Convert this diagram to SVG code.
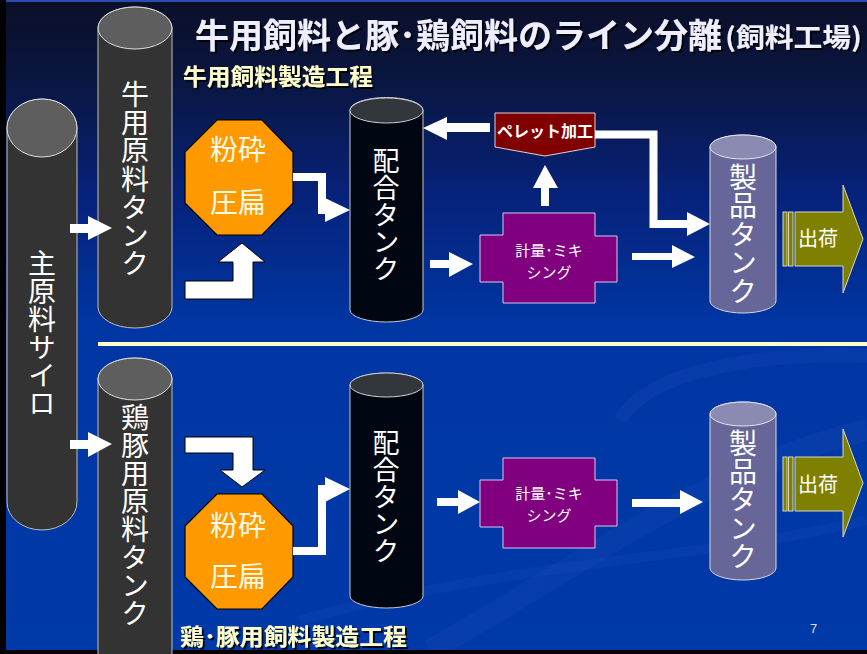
<svg xmlns="http://www.w3.org/2000/svg" width="867" height="654" viewBox="0 0 867 654">
<defs>
<linearGradient id="bg" x1="0" y1="0" x2="0" y2="1">
<stop offset="0" stop-color="#0b0f28"/>
<stop offset="0.12" stop-color="#0a1640"/>
<stop offset="0.3" stop-color="#06227a"/>
<stop offset="0.5" stop-color="#0036a4"/>
<stop offset="1" stop-color="#003aa8"/>
</linearGradient>
<filter id="sh" x="-5%" y="-20%" width="110%" height="150%">
<feDropShadow dx="2" dy="2" stdDeviation="0.6" flood-color="#000" flood-opacity="0.85"/>
</filter>
<style>
.vt{font-family:"Noto Sans CJK JP","Noto Sans",sans-serif;font-size:28px;fill:#ffffff;writing-mode:vertical-rl;text-orientation:upright}
.oct{fill:#ff9900;stroke:#000;stroke-width:1.2}
.octt{font-family:"Noto Sans CJK JP",sans-serif;font-size:28px;fill:#fffbe6;text-anchor:middle}
.dk{fill:#333333;stroke:#bdbdbd;stroke-width:1}
.dkt{fill:#5e5e5e;stroke:#e0e0e0;stroke-width:1}
.mx{fill:#000612;stroke:#c8c8c8;stroke-width:1}
.mxt{fill:#33363d;stroke:#d0d0d0;stroke-width:1}
.pr{fill:#666699;stroke:#d8d8e8;stroke-width:1}
.prt{fill:#8a8ab2;stroke:#e6e6f2;stroke-width:1}
.mix{fill:#800080;stroke:#d8c8f0;stroke-width:1}
.mixt{font-family:"Noto Sans CJK JP",sans-serif;font-size:15px;fill:#ffffff;text-anchor:middle}
.ol{fill:#808000;stroke:#d8d8c0;stroke-width:1}
.olt{font-family:"Noto Sans CJK JP",sans-serif;font-size:20px;fill:#ffffff;text-anchor:middle}
.wa{fill:#ffffff}
.wl{fill:none;stroke:#ffffff;stroke-width:8;stroke-linejoin:miter}
.wo{fill:#ffffff;stroke:#000;stroke-width:1}
.ttl{font-family:"Noto Sans CJK JP",sans-serif;font-weight:bold;fill:#eeeeff}
.sub{font-family:"Noto Sans CJK JP",sans-serif;font-weight:bold;font-size:23px;fill:#ffffcc}
</style>
</defs>
<rect x="0" y="0" width="867" height="654" fill="url(#bg)"/>
<g fill="none" stroke="#1a4cb8" stroke-opacity="0.25">
<path d="M 430 650 C 560 580 700 470 867 430" stroke-width="22"/>
<path d="M 620 420 C 650 370 760 352 867 356" stroke-width="14"/>
<path d="M 300 620 C 520 560 700 560 867 520" stroke-width="10"/>
</g>
<rect x="0" y="0" width="867" height="2" fill="#2a4cb0"/>
<rect x="0" y="0" width="6" height="654" fill="#000"/>
<rect x="0" y="650" width="867" height="4" fill="#000"/>

<g id="title">
<text class="ttl" x="195" y="48" font-size="34" textLength="527" lengthAdjust="spacingAndGlyphs" filter="url(#sh)">牛用飼料と豚･鶏飼料のライン分離</text>
<text class="ttl" x="725" y="47" font-size="26" textLength="137" lengthAdjust="spacingAndGlyphs" filter="url(#sh)">(飼料工場)</text>
</g>
<text id="sub-cow" class="sub" x="183" y="85" textLength="190" lengthAdjust="spacingAndGlyphs" filter="url(#sh)">牛用飼料製造工程</text>
<text id="sub-pig" class="sub" x="180" y="645" textLength="227" lengthAdjust="spacingAndGlyphs" filter="url(#sh)">鶏･豚用飼料製造工程</text>
<rect id="separator" x="98" y="342" width="769" height="4" fill="#ffffcc"/>
<text id="page" x="810" y="633" font-family="Liberation Sans, sans-serif" font-size="13" fill="#dddddd">7</text>

<g id="main-silo">
<path class="dk" d="M 7 128 L 7 502 A 35 28 0 0 0 77 502 L 77 128 A 35 29 0 0 0 7 128 Z"/>
<ellipse class="dkt" cx="42" cy="128" rx="35" ry="29"/>
<text class="vt" x="42" y="249">主原料サイロ</text>
</g>

<g id="cow-tank">
<path class="dk" d="M 98 28 L 98 307 A 37 21 0 0 0 172 307 L 172 28 A 37 21 0 0 0 98 28 Z"/>
<ellipse class="dkt" cx="135" cy="28" rx="37" ry="21"/>
<text class="vt" x="135" y="80" letter-spacing="0.3">牛用原料タンク</text>
</g>

<g id="pig-tank">
<path class="dk" d="M 98 379 L 98 670 A 37 21 0 0 0 172 670 L 172 379 A 37 21 0 0 0 98 379 Z"/>
<ellipse class="dkt" cx="135" cy="379" rx="37" ry="21"/>
<text class="vt" x="135" y="403">鶏豚用原料タンク</text>
</g>

<g id="crush-top">
<polygon class="oct" points="217,120 262,120 293,152 293,203 262,235 217,235 185,203 185,152"/>
<text class="octt" x="238" y="160">粉砕</text>
<text class="octt" x="238" y="213">圧扁</text>
</g>
<g id="crush-bottom">
<polygon class="oct" points="217,494 262,494 293,526 293,577 262,609 217,609 185,577 185,526"/>
<text class="octt" x="238" y="536">粉砕</text>
<text class="octt" x="238" y="587">圧扁</text>
</g>

<g id="mix-tank-top">
<path class="mx" d="M 350 110 L 350 310 A 36.5 12 0 0 0 423 310 L 423 110 A 36.5 12.5 0 0 0 350 110 Z"/>
<ellipse class="mxt" cx="386.5" cy="110.5" rx="36.5" ry="12.5"/>
<text class="vt" x="386" y="147.5" style="font-size:27px">配合タンク</text>
</g>
<g id="mix-tank-bottom">
<path class="mx" d="M 350 385 L 350 596 A 36.5 12 0 0 0 423 596 L 423 385 A 36.5 12 0 0 0 350 385 Z"/>
<ellipse class="mxt" cx="386.5" cy="385" rx="36.5" ry="12"/>
<text class="vt" x="386" y="429.5" style="font-size:27px">配合タンク</text>
</g>

<g id="weigh-mix-top">
<polygon class="mix" points="503,213 595,213 595,236 617,236 617,282 595,282 595,303 503,303 503,282 480,282 480,235 503,235"/>
<text class="mixt" x="549" y="256"><tspan x="549">計量･ミキ</tspan><tspan x="549" dy="22">シング</tspan></text>
</g>
<g id="weigh-mix-bottom">
<polygon class="mix" points="503,458 595,458 595,480 617,480 617,526 595,526 595,548 503,548 503,527 480,527 480,480 503,480"/>
<text class="mixt" x="549" y="499"><tspan x="549">計量･ミキ</tspan><tspan x="549" dy="22">シング</tspan></text>
</g>

<g id="pellet">
<polygon points="495,113 595,113 595,147 545,156 495,147" fill="#800000" stroke="#e0d0d0" stroke-width="1"/>
<text x="545" y="137" font-family="Noto Sans CJK JP, sans-serif" font-weight="bold" font-size="16" fill="#ffffff" text-anchor="middle" textLength="96" lengthAdjust="spacingAndGlyphs">ペレット加工</text>
</g>

<g id="product-tank-top">
<path class="pr" d="M 710 147 L 710 301 A 33 12 0 0 0 776 301 L 776 147 A 33 12 0 0 0 710 147 Z"/>
<ellipse class="prt" cx="743" cy="147" rx="33" ry="12"/>
<text class="vt" x="743" y="163" letter-spacing="0.5">製品タンク</text>
</g>
<g id="product-tank-bottom">
<path class="pr" d="M 710 414 L 710 568 A 33 12 0 0 0 776 568 L 776 414 A 33 12 0 0 0 710 414 Z"/>
<ellipse class="prt" cx="743" cy="414" rx="33" ry="12"/>
<text class="vt" x="743" y="429" letter-spacing="0.3">製品タンク</text>
</g>

<g id="ship-top">
<rect class="ol" x="783" y="212" width="4" height="54"/>
<rect class="ol" x="788.5" y="212" width="4.5" height="54"/>
<polygon class="ol" points="795,212 843,212 843,185 863,239 843,293 843,266 795,266"/>
<text class="olt" x="818" y="246">出荷</text>
</g>
<g id="ship-bottom">
<rect class="ol" x="783" y="457" width="4" height="54"/>
<rect class="ol" x="788.5" y="457" width="4.5" height="54"/>
<polygon class="ol" points="795,457 843,457 843,429 863,483 843,537 843,511 795,511"/>
<text class="olt" x="818" y="492">出荷</text>
</g>

<g id="connectors">
<polygon class="wa" points="70,224 88,224 88,216 112,228 88,240 88,233 70,233"/>
<polygon class="wa" points="70,440 88,440 88,432 112,444 88,457 88,449 70,449"/>
<polygon class="wo" points="185,281 233,281 233,262 218,262 242,243 265,262 253,262 253,299 185,299"/>
<polygon class="wo" points="185,437 253,437 253,470 265,470 242,487 220,470 233,470 233,453 185,453"/>
<polyline class="wl" points="293,177 322,177 322,210 328,210"/>
<polygon class="wa" points="325,198 350,210 325,222"/>
<polyline class="wl" points="293,551 322,551 322,489 328,489"/>
<polygon class="wa" points="325,477 350,489 325,502"/>
<polygon class="wa" points="430,260 449,260 449,252 473,264 449,277 449,268 430,268"/>
<polygon class="wa" points="437,498 458,498 458,490 480,502 458,514 458,506 437,506"/>
<polygon class="wa" points="541,206 541,188 533,188 545,165 558,188 549,188 549,206"/>
<polygon class="wa" points="490,123 447,123 447,117 423,128 447,140 447,132 490,132"/>
<polyline class="wl" points="595,134.5 653.5,134.5 653.5,224 690,224"/>
<polygon class="wa" points="687,212 710,224 687,236"/>
<polygon class="wa" points="632,253 672,253 672,245 695,257 672,268 672,260 632,260"/>
<polygon class="wa" points="632,499 680,499 680,490 703,502 680,514 680,507 632,507"/>
</g>
</svg>
